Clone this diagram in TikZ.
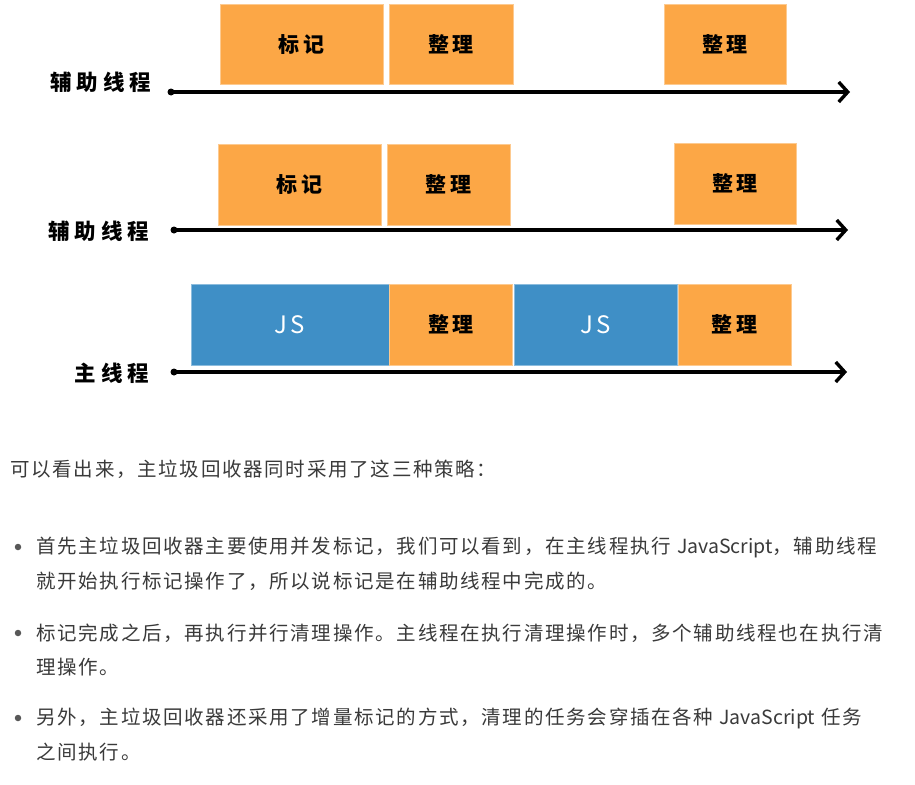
\documentclass[tikz,border=0pt]{standalone}
\usepackage{fontspec}
\usetikzlibrary{arrows.meta}
\newfontfamily\cjk{Noto Sans CJK SC}
\newfontfamily\cjkbody{Noto Sans CJK SC}[LetterSpace=8.8]
\newfontfamily\cjkhand{Noto Sans CJK SC}[LetterSpace=18]
\newfontfamily\cjklabel{Noto Sans CJK SC}[LetterSpace=22]
\newfontfamily\jsfont{Noto Sans CJK SC}[LetterSpace=12]
\newcommand{\latin}[1]{{\cjk #1}}
\definecolor{orangebox}{HTML}{FCA746}
\definecolor{bluebox}{HTML}{3F8FC6}
\definecolor{bodytext}{HTML}{3A3A3A}
\tikzset{
  task/.style={draw=#1!60!white, line width=0.8pt, fill=#1, inner sep=0pt, outer sep=0pt},
  gcbox/.style={task=orangebox, font=\cjkhand\bfseries\fontsize{21}{24}\selectfont, text=black},
  jsbox/.style={task=bluebox, font=\jsfont\fontsize{24}{26}\selectfont, text=white},
  threadlabel/.style={font=\cjklabel\bfseries\fontsize{21.5}{24}\selectfont, text=black, anchor=east, inner sep=0pt},
  timeline/.style={draw=black, line width=3.4pt, line cap=round, -{Straight Barb[length=9pt,width=20pt,line width=3.4pt]}},
  startdot/.style={circle, fill=black, minimum size=7pt, inner sep=0pt},
  para/.style={font=\cjkbody\fontsize{19.5}{24}\selectfont, text=bodytext, anchor=west, inner sep=0pt},
  bullet/.style={circle, fill=bodytext!85!white, minimum size=6.5pt, inner sep=0pt}
}
\begin{document}
\begin{tikzpicture}[x=1pt,y=-1pt]
\useasboundingbox (0,0) rectangle (915,784);
\fill[white] (0,0) rectangle (915,784);

% Row 1
\node[gcbox, minimum width=163pt, minimum height=80pt] (m1) at (301.5,44.5) {标记};
\node[gcbox, minimum width=124pt, minimum height=80pt] (s1) at (451,44.5) {整理};
\node[gcbox, minimum width=122pt, minimum height=80pt] (s1b) at (725,44.5) {整理};
\node[startdot] (a1s) at (171,92) {};
\coordinate (a1e) at (850,92);
\draw[timeline] (a1s.center) -- (a1e);
\node[threadlabel] (l1) at (151,82) {辅助线程};

% Row 2
\node[gcbox, minimum width=163pt, minimum height=81pt] (m2) at (299.5,184.5) {标记};
\node[gcbox, minimum width=123pt, minimum height=81pt] (s2) at (448.5,184.5) {整理};
\node[gcbox, minimum width=122pt, minimum height=81pt] (s2b) at (735,183.5) {整理};
\node[startdot] (a2s) at (174,230) {};
\coordinate (a2e) at (848,230);
\draw[timeline] (a2s.center) -- (a2e);
\node[threadlabel] (l2) at (149,231) {辅助线程};

% Row 3
\node[jsbox, minimum width=198pt, minimum height=81pt] (j1) at (290,324.5) {JS};
\node[gcbox, minimum width=123pt, minimum height=81pt] (s3) at (451,324.5) {整理};
\node[jsbox, minimum width=163pt, minimum height=81pt] (j2) at (595.5,324.5) {JS};
\node[gcbox, minimum width=113pt, minimum height=81pt] (s3b) at (734.5,324.5) {整理};
\node[startdot] (a3s) at (174,372) {};
\coordinate (a3e) at (847,372);
\draw[timeline] (a3s.center) -- (a3e);
\node[threadlabel] (l3) at (149,373) {主线程};

% Text
\node[para] (p0) at (10,469) {可以看出来，主垃圾回收器同时采用了这三种策略：};

\node[bullet] (b1) at (18,547) {};
\node[para] (p1a) at (36,547) {首先主垃圾回收器主要使用并发标记，我们可以看到，在主线程执行 \latin{JavaScript}，辅助线程};
\node[para] (p1b) at (36,581) {就开始执行标记操作了，所以说标记是在辅助线程中完成的。};

\node[bullet] (b2) at (18,633) {};
\node[para] (p2a) at (36,633) {标记完成之后，再执行并行清理操作。主线程在执行清理操作时，多个辅助线程也在执行清};
\node[para] (p2b) at (36,667) {理操作。};

\node[bullet] (b3) at (18,718) {};
\node[para] (p3a) at (36,718) {另外，主垃圾回收器还采用了增量标记的方式，清理的任务会穿插在各种 \latin{JavaScript} 任务};
\node[para] (p3b) at (36,752) {之间执行。};
\end{tikzpicture}
\end{document}
